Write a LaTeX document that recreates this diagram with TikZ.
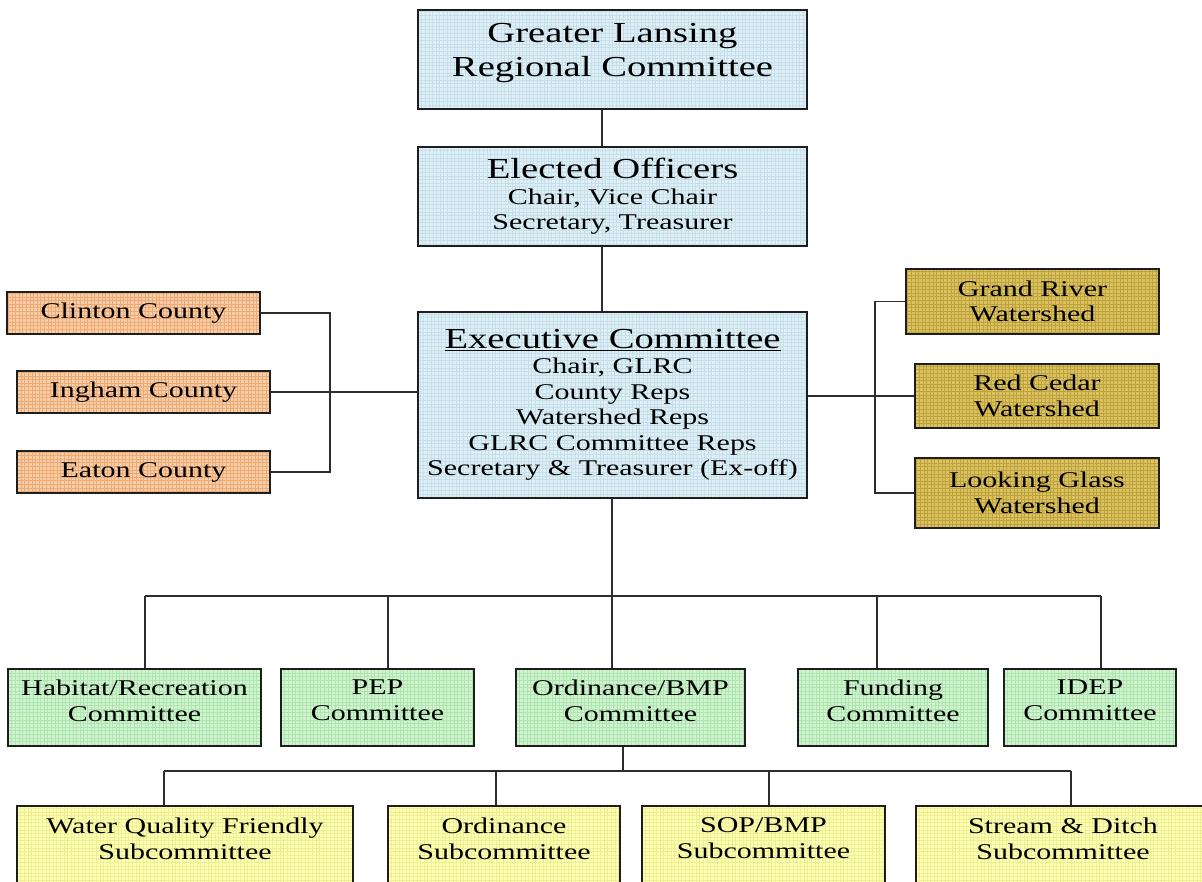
\documentclass[tikz,border=0pt]{standalone}
\usepackage{fontspec}
\setmainfont{Liberation Serif}[FakeStretch=1.333]
\newcommand\bigf{\fontsize{29}{34}\selectfont}
\newcommand\smlf{\fontsize{22.5}{25.5}\selectfont}
\newcommand\tbx[4]{\parbox[c][#1][t]{#2}{\centering\vspace{#3}#4}}
\definecolor{bluefill}{RGB}{221,240,248}
\definecolor{bluegrid}{RGB}{200,222,232}
\definecolor{peachfill}{RGB}{247,205,165}
\definecolor{peachgrid}{RGB}{236,170,120}
\definecolor{goldfill}{RGB}{218,194,96}
\definecolor{goldgrid}{RGB}{190,162,62}
\definecolor{greenfill}{RGB}{204,246,204}
\definecolor{greengrid}{RGB}{180,226,180}
\definecolor{yellowfill}{RGB}{255,255,178}
\definecolor{yellowgrid}{RGB}{238,238,150}
\definecolor{boxline}{RGB}{30,30,30}
\definecolor{connline}{RGB}{45,45,45}
\begin{document}
\begin{tikzpicture}[x=1pt,y=-1pt,
  box/.style={draw=boxline, line width=2pt, rectangle, inner sep=0pt, align=center, font=\smlf},
  gridtex/.style={path picture={\draw[#1, line width=0.5pt] (path picture bounding box.south west) grid[step=3.6pt] (path picture bounding box.north east);}},
  bluebox/.style={box, fill=bluefill, gridtex=bluegrid},
  peachbox/.style={box, fill=peachfill, gridtex=peachgrid},
  goldbox/.style={box, fill=goldfill, gridtex=goldgrid},
  greenbox/.style={box, fill=greenfill, gridtex=greengrid, anchor=north},
  yellowbox/.style={box, fill=yellowfill, gridtex=yellowgrid, anchor=north},
  conn/.style={draw=connline, line width=1.5pt}]
\useasboundingbox (0,0) rectangle (1202,882);
\begin{scope}
\clip (0,0) rectangle (1202,882);
\fill[white] (0,0) rectangle (1202,882);

% top column
\node[bluebox, font=\bigf, anchor=north] (glrc) at (612.5,9) {\tbx{99pt}{389pt}{13pt}{Greater Lansing\\Regional Committee}};
\node[bluebox, minimum width=389pt, minimum height=99pt] (elected) at (612.5,196.5) {{\bigf Elected Officers}\\Chair, Vice Chair\\Secretary, Treasurer};
\node[bluebox, minimum width=389pt, minimum height=186pt] (exec) at (612.5,405) {{\bigf\underline{Executive Committee}}\\Chair, GLRC\\County Reps\\Watershed Reps\\GLRC Committee Reps\\Secretary \& Treasurer (Ex-off)};

% counties
\node[peachbox, minimum width=253pt, minimum height=42pt] (clinton) at (133.5,313) {Clinton County};
\node[peachbox, minimum width=253pt, minimum height=42pt] (ingham) at (143.5,392) {Ingham County};
\node[peachbox, minimum width=253pt, minimum height=42pt] (eaton) at (143.5,472) {Eaton County};

% watersheds
\node[goldbox, minimum width=253pt, minimum height=65pt] (grand) at (1032.5,301.5) {Grand River\\Watershed};
\node[goldbox, minimum width=244pt, minimum height=64pt] (red) at (1037,396) {Red Cedar\\Watershed};
\node[goldbox, minimum width=244pt, minimum height=70pt] (looking) at (1037,493) {Looking Glass\\Watershed};

% committees
\node[greenbox] (habitat) at (134.5,668) {\tbx{77pt}{253pt}{11pt}{Habitat/Recreation\\Committee}};
\node[greenbox] (pep) at (377.5,668) {\tbx{77pt}{193pt}{11pt}{PEP\\Committee}};
\node[greenbox] (ordc) at (630.5,668) {\tbx{77pt}{229pt}{11pt}{Ordinance/BMP\\Committee}};
\node[greenbox] (funding) at (893,668) {\tbx{77pt}{190pt}{11pt}{Funding\\Committee}};
\node[greenbox] (idep) at (1090,668) {\tbx{77pt}{172pt}{11pt}{IDEP\\Committee}};

% subcommittees
\node[yellowbox] (wqf) at (185,805) {\tbx{95pt}{336pt}{12pt}{Water Quality Friendly\\Subcommittee}};
\node[yellowbox] (ords) at (504,805) {\tbx{95pt}{232pt}{12pt}{Ordinance\\Subcommittee}};
\node[yellowbox] (sop) at (763.5,805) {\tbx{95pt}{243pt}{12pt}{SOP/BMP\\Subcommittee}};
\node[yellowbox] (stream) at (1063,805) {\tbx{95pt}{294pt}{12pt}{Stream \& Ditch\\Subcommittee}};

% connector helper coordinates
\coordinate (topx) at (602,0);
\coordinate (b1) at (145,596);
\coordinate (b2) at (388,596);
\coordinate (b3) at (612,596);
\coordinate (b4) at (877,596);
\coordinate (b5) at (1101,596);
\coordinate (sbus) at (0,771);
\coordinate (s1) at (164,771);
\coordinate (s2) at (496,771);
\coordinate (s3) at (769,771);
\coordinate (s4) at (1071,771);
\coordinate (ordx) at (623,0);

% connectors
\draw[conn] (glrc.south -| topx) -- (elected.north -| topx);
\draw[conn] (elected.south -| topx) -- (exec.north -| topx);
\draw[conn] (clinton.east) -- ++(69,0) |- (eaton.east);
\draw[conn] (ingham.east) -- (exec.west |- ingham.east);
\draw[conn] (exec.east |- red.west) -- (red.west);
\draw[conn] (grand.west) -- ++(-30,0) |- (looking.west);
\draw[conn] (exec.south -| b3) -- (b3);
\draw[conn] (b1) -- (b5);
\draw[conn] (b1) -- (b1 |- habitat.north);
\draw[conn] (b2) -- (b2 |- pep.north);
\draw[conn] (b3) -- (b3 |- ordc.north);
\draw[conn] (b4) -- (b4 |- funding.north);
\draw[conn] (b5) -- (b5 |- idep.north);
\draw[conn] (ordc.south -| ordx) -- (ordx |- sbus);
\draw[conn] (s1) -- (s4);
\draw[conn] (s1) -- (s1 |- wqf.north);
\draw[conn] (s2) -- (s2 |- ords.north);
\draw[conn] (s3) -- (s3 |- sop.north);
\draw[conn] (s4) -- (s4 |- stream.north);
\end{scope}
\end{tikzpicture}
\end{document}
